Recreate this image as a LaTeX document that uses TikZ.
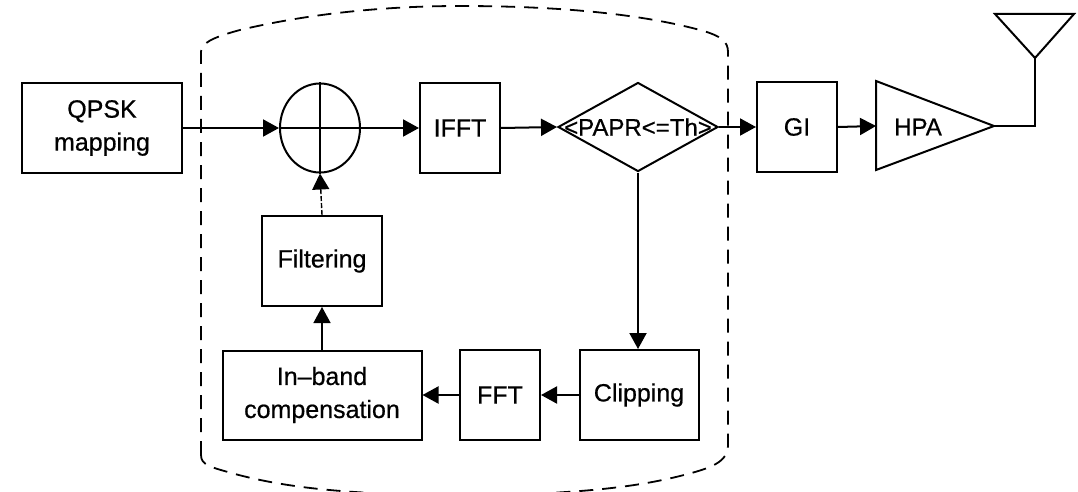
\documentclass[tikz,border=0pt]{standalone}
\usepackage{fontspec}
\setmainfont{Liberation Sans}[BoldFont=Liberation Sans,BoldFeatures={FakeBold=0.6}]
\usetikzlibrary{arrows.meta,shapes.geometric}
\tikzset{
  x=1pt,y=-1pt,
  blockbox/.style={draw,line width=2pt,minimum width=#1,inner sep=0pt,align=center,font=\fontsize{25}{33}\bfseries\selectfont,text=black},
  blockbox/.default=80pt,
  sig/.style={line width=2pt,-{Triangle[length=16pt,width=17pt]}},
  thinsig/.style={line width=1.4pt,-{Triangle[length=16pt,width=17pt]}},
  wire/.style={line width=2pt},
  lbl/.style={font=\fontsize{24}{30}\bfseries\selectfont,text=black,inner sep=0pt},
  encl/.style={line width=1.8pt,dash pattern=on 14pt off 9pt}
}
\begin{document}
\begin{tikzpicture}
\useasboundingbox (0,0) rectangle (1078,492);
\clip (0,0) rectangle (1078,492);
% enclosure
\draw[encl] (201,455) -- (201,52) .. controls (201,44) and (210,38) .. (240,30) .. controls (320,11) and (400,6) .. (460,6) .. controls (560,6) and (640,14) .. (700,30) .. controls (722,36) and (728,42) .. (728,52) -- (728,445) .. controls (728,462) and (712,468) .. (680,476) .. controls (640,486) and (580,495) .. (460,495) .. controls (340,495) and (280,486) .. (235,474) .. controls (210,467) and (201,465) .. (201,455);
% blocks
\node[blockbox=160pt,minimum height=89pt] (qpsk) at (102,128) {\raisebox{-3pt}{QPSK}\\\raisebox{-3pt}{mapping}};
\node[draw,ellipse,line width=2pt,minimum width=80pt,minimum height=89pt,inner sep=0pt] (sum) at (320,128) {};
\node[blockbox,minimum height=89pt] (ifft) at (460,128) {IFFT};
\node[draw,diamond,line width=2pt,minimum width=160pt,minimum height=89pt,inner sep=0pt,aspect=1.8] (papr) at (638,127) {};
\node[lbl] (paprt) at (638,127) {<PAPR<=Th>};
\node[blockbox,minimum height=89pt] (gi) at (797,127) {GI};
\coordinate (ha) at (876,81);
\coordinate (hb) at (876,170);
\coordinate (hc) at (994,126);
\coordinate (hin) at (876,126);
\draw[wire,line join=miter] (ha) -- (hc) -- (hb) -- cycle;
\node[lbl] (hpa) at (918,127) {HPA};
\node[blockbox=120pt,minimum height=90pt] (filt) at (322,261) {Filtering};
\node[blockbox=199pt,minimum height=89pt] (inband) at (322,395) {In–band\\compensation};
\node[blockbox,minimum height=90pt] (fft) at (500,395) {FFT};
\node[blockbox=119pt,minimum height=90pt] (clip) at (639,395) {Clipping};
% antenna
\coordinate (a1) at (995,14);
\coordinate (a2) at (1074,14);
\coordinate (a3) at (1035,58);
\coordinate (a4) at (1035,126);
\draw[wire] (a1) -- (a2) -- (a3) -- cycle;
\draw[wire] (hc) -- (a4) -- (a3);
% cross in circle
\draw[wire] (sum.north) -- (sum.south);
\draw[wire] (sum.west) -- (sum.east);
% connectors
\draw[sig] (qpsk.east) -- (sum.west);
\draw[sig] (sum.east) -- (ifft.west);
\draw[sig] (ifft.east) -- (papr.west);
\draw[sig] (papr.east) -- (gi.west);
\draw[sig] (gi.east) -- (hin);
\draw[sig] (papr.south) -- (clip.north -| papr.south);
\draw[sig] (clip.west) -- (fft.east);
\draw[sig] (fft.west) -- (inband.east);
\draw[thinsig] (inband.north) -- (filt.south);
\draw[thinsig,dash pattern=on 5pt off 2pt] (filt.north) -- (sum.south);
\end{tikzpicture}
\end{document}
